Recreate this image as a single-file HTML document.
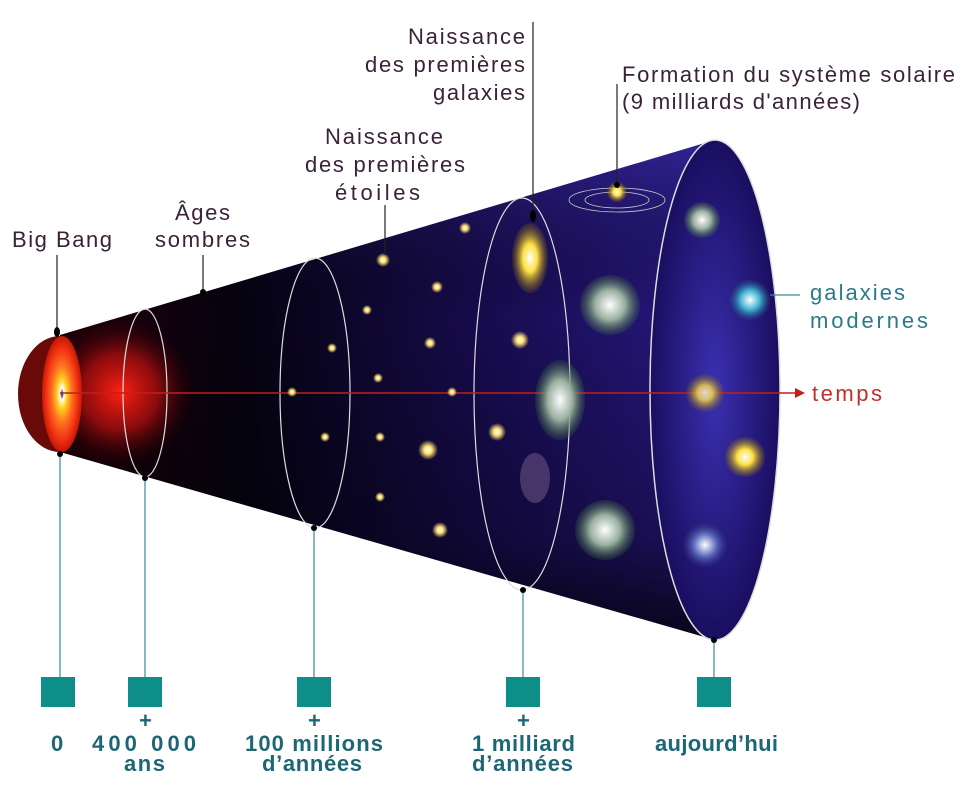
<!DOCTYPE html>
<html><head><meta charset="utf-8"><style>
body{margin:0;background:#fff;width:977px;height:788px;overflow:hidden}
svg{display:block}
.t{font-family:"Liberation Sans",sans-serif;font-size:22px;fill:#3a2238}
.b{font-family:"Liberation Sans",sans-serif;font-size:22px;font-weight:bold;fill:#1d6676}
</style></head><body>
<svg width="977" height="788" viewBox="0 0 977 788">
<defs>
<linearGradient id="cone" x1="0" y1="0" x2="1" y2="0">
<stop offset="0" stop-color="#200008"/><stop offset="0.25" stop-color="#05020f"/><stop offset="0.6" stop-color="#180c50"/><stop offset="1" stop-color="#2c1c90"/></linearGradient>
<linearGradient id="shade" x1="0" y1="0" x2="0" y2="1">
<stop offset="0" stop-color="#3b2ca8" stop-opacity="0.6"/><stop offset="0.35" stop-color="#000" stop-opacity="0"/><stop offset="0.8" stop-color="#000" stop-opacity="0.3"/><stop offset="1" stop-color="#000" stop-opacity="0.8"/></linearGradient>
<radialGradient id="glow" cx="0.5" cy="0.5" r="0.5"><stop offset="0" stop-color="#ff2010"/><stop offset="0.5" stop-color="#c01010" stop-opacity="0.7"/><stop offset="1" stop-color="#300" stop-opacity="0"/></radialGradient>
<radialGradient id="face" cx="0.5" cy="0.5" r="0.5"><stop offset="0" stop-color="#200"/><stop offset="0.1" stop-color="#fff"/><stop offset="0.25" stop-color="#ffd020"/><stop offset="0.5" stop-color="#ff7020"/><stop offset="0.8" stop-color="#f03010"/><stop offset="1" stop-color="#c01808"/></radialGradient>
<radialGradient id="end" cx="0.5" cy="0.5" r="0.5"><stop offset="0" stop-color="#3a30b0"/><stop offset="1" stop-color="#1a0e60"/></radialGradient>
<radialGradient id="star" cx="0.5" cy="0.5" r="0.5"><stop offset="0" stop-color="#fff"/><stop offset="0.4" stop-color="#ffe070"/><stop offset="1" stop-color="#ffe070" stop-opacity="0"/></radialGradient>
<radialGradient id="gy" cx="0.5" cy="0.5" r="0.5"><stop offset="0" stop-color="#fff"/><stop offset="0.4" stop-color="#ffe040"/><stop offset="1" stop-color="#806010" stop-opacity="0.2"/></radialGradient>
<radialGradient id="gg" cx="0.5" cy="0.5" r="0.5"><stop offset="0" stop-color="#fff"/><stop offset="0.5" stop-color="#9ab0a0"/><stop offset="1" stop-color="#407040" stop-opacity="0.2"/></radialGradient>
<radialGradient id="gb" cx="0.5" cy="0.5" r="0.5"><stop offset="0" stop-color="#fff"/><stop offset="0.5" stop-color="#40b0d0"/><stop offset="1" stop-color="#205080" stop-opacity="0.2"/></radialGradient>
<radialGradient id="gl" cx="0.5" cy="0.5" r="0.5"><stop offset="0" stop-color="#fff"/><stop offset="0.5" stop-color="#6070c0"/><stop offset="1" stop-color="#303080" stop-opacity="0.2"/></radialGradient>
</defs>
<path d="M60,335 L715,140 A65,250 0 0 1 715,640 L60,452 Z" fill="url(#cone)"/>
<path d="M60,335 L715,140 A65,250 0 0 1 715,640 L60,452 Z" fill="url(#shade)"/>
<ellipse cx="120" cy="392" rx="75" ry="75" fill="url(#glow)"/>
<ellipse cx="715" cy="390" rx="65" ry="250" fill="url(#end)"/>
<ellipse cx="715" cy="390" rx="65" ry="250" fill="none" stroke="#ddd" stroke-width="1.5"/>
<ellipse cx="145" cy="393" rx="22" ry="84" fill="none" stroke="#ddd" stroke-width="1.2"/>
<ellipse cx="315" cy="393" rx="35" ry="135" fill="none" stroke="#ddd" stroke-width="1.2"/>
<ellipse cx="522" cy="394" rx="48" ry="196" fill="none" stroke="#ddd" stroke-width="1.2"/>
<path d="M60,336 A42,58 0 0 0 60,452 Z" fill="#6a0a08"/>
<ellipse cx="62" cy="394" rx="20" ry="58" fill="url(#face)"/>
<line x1="60" y1="393" x2="795" y2="393" stroke="#c0201a" stroke-width="1.5"/>
<path d="M795,388 L805,393 L795,398 Z" fill="#c0201a"/>
<text x="812" y="401" class="t" style="fill:#c0302a" textLength="70">temps</text>
<g fill="url(#star)">
<circle cx="383" cy="260" r="7"/><circle cx="465" cy="228" r="6"/><circle cx="437" cy="287" r="6"/>
<circle cx="367" cy="310" r="5"/><circle cx="332" cy="348" r="5"/><circle cx="430" cy="343" r="6"/>
<circle cx="378" cy="378" r="5"/><circle cx="292" cy="392" r="5"/><circle cx="452" cy="392" r="5"/>
<circle cx="325" cy="437" r="5"/><circle cx="380" cy="437" r="5"/><circle cx="428" cy="450" r="10"/>
<circle cx="380" cy="497" r="5"/><circle cx="440" cy="530" r="8"/><circle cx="497" cy="432" r="9"/>
<circle cx="520" cy="340" r="9"/>
</g>
<ellipse cx="530" cy="258" rx="18" ry="35" fill="url(#gy)"/>
<circle cx="610" cy="305" r="30" fill="url(#gg)"/>
<ellipse cx="560" cy="400" rx="25" ry="40" fill="url(#gg)"/>
<ellipse cx="535" cy="478" rx="15" ry="25" fill="#6a5080" opacity="0.6"/>
<circle cx="605" cy="530" r="30" fill="url(#gg)"/>
<circle cx="702" cy="220" r="18" fill="url(#gg)"/>
<circle cx="750" cy="300" r="20" fill="url(#gb)"/>
<circle cx="705" cy="393" r="19" fill="url(#gy)" opacity="0.8"/>
<circle cx="745" cy="457" r="20" fill="url(#gy)"/>
<circle cx="705" cy="545" r="22" fill="url(#gl)"/>
<ellipse cx="617" cy="200" rx="48" ry="12" fill="none" stroke="#ccc" stroke-width="0.8"/>
<ellipse cx="617" cy="200" rx="32" ry="8" fill="none" stroke="#ccc" stroke-width="0.8"/>
<circle cx="617" cy="192" r="10" fill="url(#gy)"/>
<g stroke="#222" stroke-width="1.2">
<line x1="57" y1="255" x2="57" y2="332"/><line x1="203" y1="255" x2="203" y2="292"/>
<line x1="385" y1="205" x2="385" y2="255"/><line x1="533" y1="22" x2="533" y2="222"/>
<line x1="617" y1="84" x2="617" y2="185"/>
</g>
<g fill="#000"><ellipse cx="57" cy="332" rx="3" ry="5"/><circle cx="203" cy="292" r="3"/><ellipse cx="533" cy="216" rx="3" ry="6"/><circle cx="617" cy="185" r="3"/></g>
<line x1="770" y1="295" x2="800" y2="295" stroke="#3a8a98" stroke-width="1.2"/>
<text x="810" y="300" class="t" style="fill:#2a7a8a" textLength="95">galaxies</text>
<text x="810" y="328" class="t" style="fill:#2a7a8a" textLength="118">modernes</text>
<g class="t">
<text x="12" y="247" textLength="100">Big Bang</text>
<text x="175" y="220" textLength="55">Âges</text><text x="155" y="247" textLength="95">sombres</text>
<text x="325" y="144" textLength="118">Naissance</text><text x="305" y="172" textLength="160">des premières</text><text x="335" y="200" textLength="85">étoiles</text>
<text x="408" y="44" textLength="117">Naissance</text><text x="365" y="72" textLength="160">des premières</text><text x="433" y="100" textLength="92">galaxies</text>
<text x="622" y="82" textLength="333">Formation du système solaire</text><text x="622" y="109" textLength="238">(9 milliards d'années)</text>
</g>
<g stroke="#3a8a98" stroke-width="1.2">
<line x1="60" y1="455" x2="60" y2="677"/><line x1="145" y1="478" x2="145" y2="677"/>
<line x1="314" y1="528" x2="314" y2="677"/><line x1="523" y1="590" x2="523" y2="677"/>
<line x1="714" y1="640" x2="714" y2="677"/></g>
<g fill="#000"><circle cx="60" cy="454" r="3"/><circle cx="145" cy="478" r="3"/><circle cx="314" cy="528" r="3"/><circle cx="523" cy="590" r="3"/><circle cx="714" cy="640" r="3"/></g>
<g fill="#0e8e88">
<rect x="41" y="677" width="34" height="30"/><rect x="128" y="677" width="34" height="30"/>
<rect x="297" y="677" width="34" height="30"/><rect x="506" y="677" width="34" height="30"/><rect x="697" y="677" width="34" height="30"/></g>
<g class="b">
<text x="51" y="751">0</text>
<text x="139" y="728">+</text><text x="92" y="751" textLength="104">400 000</text><text x="124" y="771" textLength="41">ans</text>
<text x="308" y="728">+</text><text x="245" y="751" textLength="138">100 millions</text><text x="262" y="771" textLength="100">d’années</text>
<text x="517" y="728">+</text><text x="472" y="751" textLength="103">1 milliard</text><text x="472" y="771" textLength="101">d’années</text>
<text x="655" y="751" textLength="123">aujourd’hui</text>
</g>
</svg>
</body></html>
